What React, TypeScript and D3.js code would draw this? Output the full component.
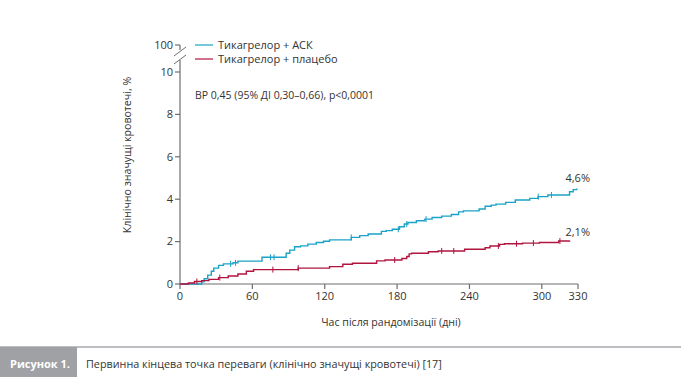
import React from "react";
import * as d3 from "d3";

const xTicks = [0, 60, 120, 180, 240, 300, 330];
const yTicks = [0, 2, 4, 6, 8, 10];
const seriesNames = ["Тикагрелор + АСК", "Тикагрелор + плацебо"];
const seriesColors = ["#1aa2c8", "#b0143f"];

const ascDays = [0, 18, 20, 23, 26, 28, 32, 36, 44, 48, 68, 88, 91, 95, 100, 106, 113, 119, 124, 142, 149, 156, 167, 171, 176, 182, 186, 189, 196, 203, 209, 217, 225, 231, 235, 248, 253, 258, 262, 270, 278, 290, 297, 305, 323, 326, 329];
const ascVals = [0, 0.1, 0.25, 0.42, 0.6, 0.75, 0.88, 0.95, 1.0, 1.08, 1.26, 1.45, 1.6, 1.76, 1.8, 1.88, 1.96, 2.02, 2.08, 2.2, 2.28, 2.36, 2.48, 2.52, 2.58, 2.7, 2.83, 2.9, 2.98, 3.06, 3.14, 3.2, 3.28, 3.4, 3.45, 3.54, 3.67, 3.72, 3.77, 3.85, 3.96, 4.04, 4.12, 4.2, 4.35, 4.45, 4.5];
const plcDays = [0, 7, 12, 18, 24, 32, 40, 48, 55, 61, 98, 124, 135, 143, 163, 170, 184, 188, 190, 192, 206, 214, 236, 253, 257, 265, 269, 284, 298, 314, 323];
const plcVals = [0, 0.05, 0.12, 0.16, 0.22, 0.3, 0.38, 0.47, 0.6, 0.68, 0.75, 0.82, 0.93, 0.98, 1.09, 1.13, 1.2, 1.3, 1.42, 1.45, 1.52, 1.56, 1.64, 1.71, 1.79, 1.87, 1.9, 1.93, 1.96, 2.03, 2.05];
const ascCensor = [42, 46, 75, 78, 142, 181, 188, 204, 297, 308];
const plcCensor = [14, 33, 77, 98, 178, 217, 227, 264, 279, 293, 315];
const endLabels = ["4,6%", "2,1%"];
const statText = "ВР 0,45 (95% ДІ 0,30–0,66), p<0,0001";
const xTitle = "Час після рандомізації (дні)";
const yTitle = "Клінічно значущі кровотечі, %";
const figLabel = "Рисунок 1.";
const caption = "Первинна кінцева точка переваги (клінічно значущі кровотечі) [17]";

const FONT = "'Open Sans', sans-serif";
const AX = "#6d6e71";
const TXT = "#333333";

export default function App() {
  const x = d3.scaleLinear().domain([0, 330]).range([180, 578]);
  const y = d3.scaleLinear().domain([0, 10]).range([284, 72]);
  const y100 = 45;

  const line = d3
    .line<[number, number]>()
    .x((d) => x(d[0]))
    .y((d) => y(d[1]))
    .curve(d3.curveStepAfter);

  const series = [
    { days: ascDays, vals: ascVals, censor: ascCensor },
    { days: plcDays, vals: plcVals, censor: plcCensor },
  ];

  const valueAt = (days: number[], vals: number[], d: number) => {
    const i = d3.bisectRight(days, d) - 1;
    return vals[Math.max(0, i)];
  };

  return (
    <svg
      width={681}
      height={377}
      style={{ position: "absolute", left: 0, top: 0, background: "#fff" }}
      fontFamily={FONT}
    >
      {/* y axis */}
      <line x1={x(0)} x2={x(0)} y1={y(0)} y2={60} stroke={AX} strokeWidth={1.2} />
      <line x1={x(0)} x2={x(0)} y1={y100} y2={50} stroke={AX} strokeWidth={1.2} />
      <line x1={174} x2={186} y1={56} y2={47} stroke={AX} strokeWidth={1} />
      <line x1={174} x2={186} y1={64} y2={55} stroke={AX} strokeWidth={1} />
      {yTicks.map((t) => (
        <g key={t}>
          <line x1={x(0) - 5} x2={x(0)} y1={y(t)} y2={y(t)} stroke={AX} strokeWidth={1.2} />
          <text x={x(0) - 7} y={y(t) + 3.8} textAnchor="end" fontSize={11} fill={TXT}>
            {t}
          </text>
        </g>
      ))}
      <line x1={x(0) - 5} x2={x(0)} y1={y100} y2={y100} stroke={AX} strokeWidth={1.2} />
      <text x={x(0) - 7} y={y100 + 3.8} textAnchor="end" fontSize={11} fill={TXT}>
        100
      </text>

      {/* x axis */}
      <line x1={x(0)} x2={x(330)} y1={y(0)} y2={y(0)} stroke={AX} strokeWidth={1.2} />
      {xTicks.map((t) => (
        <g key={t}>
          <line x1={x(t)} x2={x(t)} y1={y(0)} y2={y(0) + 5} stroke={AX} strokeWidth={1.2} />
          <text x={x(t)} y={y(0) + 16} textAnchor="middle" fontSize={11} fill={TXT}>
            {t}
          </text>
        </g>
      ))}

      {/* titles */}
      <text x={391} y={326} textAnchor="middle" fontSize={10.6} fill={TXT}>
        {xTitle}
      </text>
      <text
        transform={`translate(131,155) rotate(-90)`}
        textAnchor="middle"
        fontSize={10.6}
        fill={TXT}
      >
        {yTitle}
      </text>

      {/* curves */}
      {series.map((s, i) => {
        const pts = s.days.map((d, j) => [d, s.vals[j]] as [number, number]);
        return (
          <g key={i}>
            <path d={line(pts) || ""} fill="none" stroke={seriesColors[i]} strokeWidth={1.4} />
            {s.censor.map((c) => {
              const v = valueAt(s.days, s.vals, c);
              return (
                <line
                  key={c}
                  x1={x(c)}
                  x2={x(c)}
                  y1={y(v) - 3}
                  y2={y(v) + 3}
                  stroke={seriesColors[i]}
                  strokeWidth={1}
                />
              );
            })}
          </g>
        );
      })}

      {/* end labels */}
      <text x={590} y={182} textAnchor="end" fontSize={11} fill={TXT}>
        {endLabels[0]}
      </text>
      <text x={590} y={236} textAnchor="end" fontSize={11} fill={TXT}>
        {endLabels[1]}
      </text>

      {/* legend */}
      {seriesNames.map((n, i) => (
        <g key={n}>
          <line x1={195} x2={213} y1={45 + i * 14} y2={45 + i * 14} stroke={seriesColors[i]} strokeWidth={1.2} />
          <text x={218} y={49 + i * 14} fontSize={11} fill={TXT}>
            {n}
          </text>
        </g>
      ))}

      <text x={195} y={99} fontSize={10.5} fill={TXT}>
        {statText}
      </text>

      {/* footer */}
      <line x1={0} x2={681} y1={347} y2={347} stroke="#a7a9ac" strokeWidth={1.5} />
      <rect x={0} y={347} width={77} height={30} fill="#9fa1a4" />
      <text x={10} y={368} fontSize={11} fontWeight="bold" fill="#fff">
        {figLabel}
      </text>
      <text x={86} y={368} fontSize={10.8} fill={TXT}>
        {caption}
      </text>
    </svg>
  );
}
